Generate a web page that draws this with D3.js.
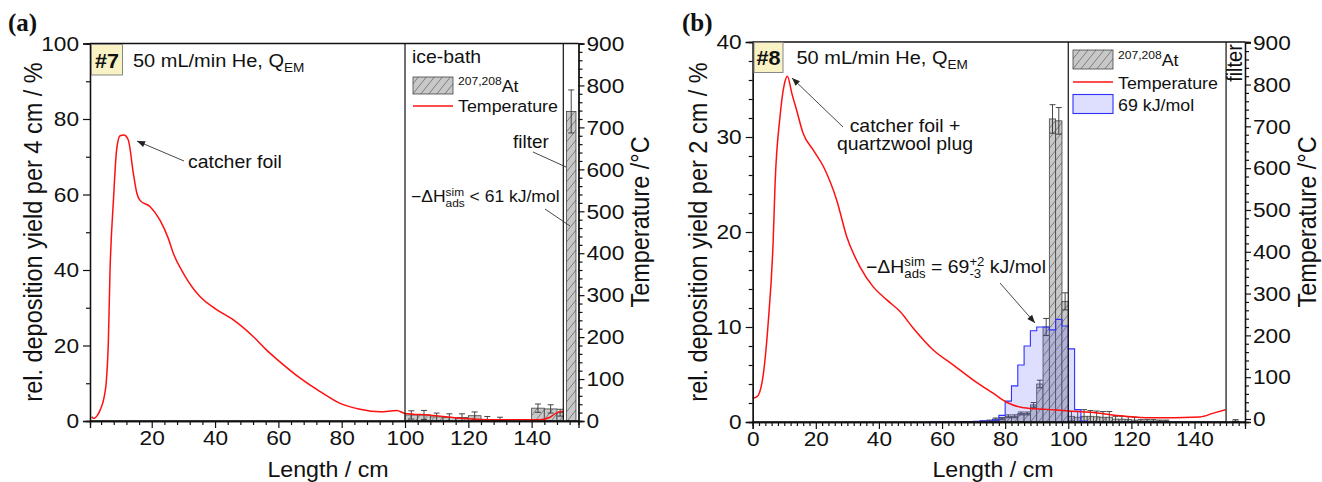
<!DOCTYPE html>
<html>
<head>
<meta charset="utf-8">
<script src="https://cdn.jsdelivr.net/npm/d3@7"></script>
<style>
body { margin: 0; background: #fff; }
text { font-family: "Liberation Sans", Arial, sans-serif; fill: #111; white-space: pre; }
</style>
</head>
<body>
<svg id="mainSvg" width="1322" height="482"></svg>
<script>
// ---- panel (a) #7 : 4 cm bins in the ice-bath, filter separately
var edgesA  = [100, 104, 108, 112, 116, 120, 124, 128, 132, 136, 140, 144, 148, 150];
var yieldA  = [1.6, 1.6, 1.1, 0.9, 0.9, 1.4, 0.3, 0.2, 0, 0, 3.4, 3.2, 2.2];
var errA    = [1.1, 1.2, 1.0, 1.0, 1.0, 1.0, 0.9, 0.8, 0, 0, 1.1, 1.1, 0.9];
var filterEdgesA = [151, 154];
var filterYieldA = [82];
var filterErrA   = [5.7];
var tempAcm = [1.0, 1.7, 2.6, 3.7, 5.0, 5.6, 6.0, 6.3, 6.8, 7.9, 8.9, 10.0, 11.2, 12.6, 14.2, 15.3, 16.3, 19.5, 22.6, 25.2, 26.8, 30, 35.3, 40, 45.8, 52.1, 56.3, 60.5, 66.9, 73.2, 79.5, 85.8, 92.1, 97.4, 100, 107.9, 118.5, 129, 142.7, 145.8, 148, 149.9];
var tempAdeg = [10, 6, 11, 26, 58, 90, 135, 189, 351, 526, 646, 680, 682, 670, 590, 543, 526, 511, 479, 436, 400, 352, 296, 268, 241, 201, 169, 141, 102, 70, 42, 28, 22, 25, 18, 14, 6, 3, 3, 9, 20, 23];

// ---- panel (b) #8 : 2 cm bins
var edgesB = [72, 74, 76, 78, 80, 82, 84, 86, 88, 90, 92, 94, 96, 98, 100, 102, 104, 106, 108, 110, 112, 114, 116, 118, 120, 122, 124, 126, 128, 130, 132];
var yieldB = [0.05, 0.1, 0.3, 0.35, 0.6, 0.6, 0.9, 0.9, 1.8, 4.0, 10.0, 31.9, 31.7, 12.7, 0.6, 0.5, 0.6, 0.6, 0.55, 0.5, 0.5, 0.3, 0.3, 0.25, 0.2, 0.1, 0.1, 0.1, 0.1, 0.1];
var errB   = [0.05, 0.1, 0.12, 0.12, 0.15, 0.15, 0.15, 0.15, 0.25, 0.4, 0.9, 1.5, 1.4, 0.9, 0.5, 0.6, 0.7, 0.6, 0.6, 0.6, 0.6, 0.3, 0.3, 0.3, 0.3, 0.15, 0.15, 0.15, 0.1, 0.1];
var filterEdgesB = [152, 154];
var filterYieldB = [0.1];
var filterErrB   = [0.15];
var simEdgesB = [56, 60, 66, 70, 72, 74, 76, 78, 80, 82, 84, 86, 88, 90, 92, 94, 96, 98, 100, 102, 104, 106, 150];
var simB      = [0, 0.02, 0.04, 0.08, 0.12, 0.1, 0.2, 0.7, 2.2, 3.8, 6.0, 8.0, 9.6, 10.0, 10.0, 9.7, 10.8, 10.1, 7.7, 1.3, 0.1, 0];
var tempBcm = [0, 1.0, 1.8, 3.4, 4.9, 6.5, 7.1, 8.65, 10.0, 11.0, 12.4, 13.9, 16.0, 19.2, 22.4, 26.6, 29.8, 34.0, 38.2, 42.5, 46.7, 50.9, 57.2, 63.6, 69.9, 76.3, 80.5, 85.8, 93.2, 100, 106.9, 117.5, 125.9, 141.8, 146, 149.8];
var tempBdeg = [50, 52, 57, 109, 229, 428, 564, 723, 800, 820, 779, 739, 683, 643, 604, 524, 436, 364, 316, 285, 257, 217, 165, 129, 93, 61, 40, 27, 23, 19, 16, 7, 3, 5, 14, 22];

var SX = 1.08;   // text in the reference looks a bit wide
var svg = d3.select("#mainSvg");
var defs = svg.append("defs");
var pat = defs.append("pattern").attr("id", "hatch").attr("patternUnits", "userSpaceOnUse").attr("width", 8).attr("height", 10);
pat.append("rect").attr("width", 8).attr("height", 10).attr("fill", "#c8c8c8");
pat.append("path").attr("d", "M0,10 L8,0 M-2,2.5 L2,-2.5 M6,12.5 L10,7.5").attr("stroke", "#5a5a5a").attr("stroke-width", 0.7);
defs.append("marker").attr("id", "arrow").attr("markerUnits", "userSpaceOnUse").attr("viewBox", "0 0 10 10")
	.attr("refX", 10).attr("refY", 5).attr("markerWidth", 10).attr("markerHeight", 8).attr("orient", "auto")
	.append("path").attr("d", "M0,1 L10,5 L0,9 Z").attr("fill", "#222");

// text with sub/superscript parts, drawn in a horizontally stretched group
function rich(g, x, y, parts, size, anchor, weight)
{
	var grp = g.append("g").attr("transform", "translate(" + x + "," + y + ") scale(" + SX + ",1)");
	var cx = 0;
	parts.forEach(function(p) {
		if(p.t !== undefined)
		{
			var t = grp.append("text").attr("x", cx).attr("y", 0).attr("font-size", size).text(p.t);
			if(weight) t.attr("font-weight", weight);
			cx += t.node().getComputedTextLength();
		}
		else
		{
			var w = 0;
			if(p.sup)
			{
				var s = grp.append("text").attr("x", cx).attr("y", -0.4 * size).attr("font-size", size * 0.68).text(p.sup);
				w = Math.max(w, s.node().getComputedTextLength());
			}
			if(p.sub)
			{
				var b = grp.append("text").attr("x", cx).attr("y", 0.3 * size).attr("font-size", size * 0.68).text(p.sub);
				w = Math.max(w, b.node().getComputedTextLength());
			}
			cx += w;
		}
	});
	if(anchor == "middle")
		grp.selectAll("text").attr("transform", "translate(" + (-cx / 2) + ",0)");
	return grp;
}
function vtitle(x, y, str, size)
{
	svg.append("g").attr("transform", "translate(" + x + "," + y + ") scale(" + SX + ",1) rotate(-90)")
		.append("text").attr("text-anchor", "middle").attr("font-size", size).text(str);
}
function stretchTicks(ax)
{
	ax.selectAll("text").attr("font-size", 21).style("font-family", "Liberation Sans, Arial, sans-serif").each(function() {
		var el = d3.select(this);
		var x0 = +el.attr("x") || 0;
		el.attr("transform", "translate(" + (x0 * (1 - SX)) + ",0) scale(" + SX + ",1)");
	});
	ax.selectAll("path.domain").attr("stroke", "#111").attr("stroke-width", 1.3);
	ax.selectAll("line").attr("stroke", "#111").attr("stroke-width", 1.2);
}
function range(a, b, s, skip)
{
	var r = [];
	for(var v = a; v <= b + 1e-9; v += s)
		if(!skip || Math.abs(v / skip - Math.round(v / skip)) > 1e-6)
			r.push(+v.toFixed(3));
	return r;
}
function axes(P)
{
	var x = P.x, y = P.y, t = P.t;
	var x0 = x.range()[0], x1 = x.range()[1], y0 = y.range()[0], y1 = y.range()[1];
	var gb = svg.append("g").attr("transform", "translate(0," + y0 + ")");
	gb.append("g").call(d3.axisBottom(x).tickValues(P.xMajor).tickSize(7).tickPadding(2).tickFormat(d3.format("d")));
	gb.append("g").call(d3.axisBottom(x).tickValues(P.xMinor).tickSize(4).tickFormat(""));
	var gl = svg.append("g").attr("transform", "translate(" + x0 + ",0)");
	gl.append("g").call(d3.axisLeft(y).tickValues(P.yMajor).tickSize(7).tickPadding(4).tickFormat(d3.format("d")));
	gl.append("g").call(d3.axisLeft(y).tickValues(P.yMinor).tickSize(4).tickFormat(""));
	var gr = svg.append("g").attr("transform", "translate(" + x1 + ",0)");
	gr.append("g").call(d3.axisRight(t).tickValues(range(0, 900, 100)).tickSize(6).tickPadding(2).tickFormat(d3.format("d")));
	gr.append("g").call(d3.axisRight(t).tickValues(range(20, 880, 20, 100)).tickSize(4).tickFormat(""));
	[gb, gl, gr].forEach(stretchTicks);
	svg.append("line").attr("x1", x0).attr("x2", x1).attr("y1", y1).attr("y2", y1).attr("stroke", "#111").attr("stroke-width", 1.3);
	svg.append("line").attr("x1", x0).attr("x2", x1).attr("y1", y0).attr("y2", y0).attr("stroke", "#111").attr("stroke-width", 1.3);
	[100, 150].forEach(function(v) {
		svg.append("line").attr("x1", x(v)).attr("x2", x(v)).attr("y1", y1).attr("y2", y0).attr("stroke", "#111").attr("stroke-width", 1.2);
	});
}
function bars(P, edges, vals, errs)
{
	var x = P.x, y = P.y;
	var d = vals.map(function(v, i) { return {a: edges[i], b: edges[i + 1], v: v, e: errs[i]}; });
	svg.append("g").selectAll("rect").data(d.filter(function(k) { return k.v > 0; })).enter().append("rect")
		.attr("x", function(k) { return x(k.a); }).attr("width", function(k) { return x(k.b) - x(k.a); })
		.attr("y", function(k) { return y(k.v); }).attr("height", function(k) { return y(0) - y(k.v); })
		.attr("fill", "url(#hatch)").attr("stroke", "#444").attr("stroke-width", 0.8);
	var ge = svg.append("g").attr("stroke", "#333").attr("stroke-width", 0.9);
	d.filter(function(k) { return k.e > 0; }).forEach(function(k) {
		var cx = x((k.a + k.b) / 2), hi = y(k.v + k.e), lo = y(Math.max(0, k.v - k.e));
		ge.append("line").attr("x1", cx).attr("x2", cx).attr("y1", hi).attr("y2", lo);
		ge.append("line").attr("x1", cx - 3).attr("x2", cx + 3).attr("y1", hi).attr("y2", hi);
		ge.append("line").attr("x1", cx - 3).attr("x2", cx + 3).attr("y1", lo).attr("y2", lo);
	});
}
function tempLine(P, cm, deg)
{
	var pts = cm.map(function(c, i) { return [c, deg[i]]; });
	svg.append("path").datum(pts).attr("fill", "none").attr("stroke", "#ff1010").attr("stroke-width", 1.5)
		.attr("d", d3.line().x(function(p) { return P.x(p[0]); }).y(function(p) { return P.t(p[1]); }).curve(d3.curveMonotoneX));
}
function arrow(x1, y1, x2, y2, head)
{
	var l = svg.append("line").attr("x1", x1).attr("y1", y1).attr("x2", x2).attr("y2", y2).attr("stroke", "#333").attr("stroke-width", 0.9);
	if(head)
		l.attr("marker-end", "url(#arrow)");
}

// ---------- panel (a)
var PA = {
	x: d3.scaleLinear().domain([0.5, 154.8]).range([90, 578.5]),
	y: d3.scaleLinear().domain([0, 100]).range([421, 43.5]),
	t: d3.scaleLinear().domain([0, 900]).range([421, 43.5]),
	xMajor: range(20, 140, 20), xMinor: range(4, 152, 4, 20),
	yMajor: range(0, 100, 20), yMinor: range(10, 90, 20)
};
bars(PA, edgesA, yieldA, errA);
bars(PA, filterEdgesA, filterYieldA, filterErrA);
tempLine(PA, tempAcm, tempAdeg);
axes(PA);

// ---------- panel (b)
var PB = {
	x: d3.scaleLinear().domain([0, 156]).range([752.7, 1245]),
	y: d3.scaleLinear().domain([0, 40]).range([422, 42]),
	t: d3.scaleLinear().domain([-7.2, 901.8]).range([422, 42]),
	xMajor: range(0, 140, 20), xMinor: range(2, 154, 2, 20),
	yMajor: range(0, 40, 10), yMinor: range(2, 38, 2, 10)
};
bars(PB, edgesB, yieldB, errB);
bars(PB, filterEdgesB, filterYieldB, filterErrB);
var simPts = simB.map(function(v, i) { return [simEdgesB[i], v]; });
simPts.push([simEdgesB[simEdgesB.length - 1], 0]);
svg.append("path").datum(simPts).attr("fill", "rgba(90,90,255,0.2)").attr("stroke", "none")
	.attr("d", d3.area().x(function(p) { return PB.x(p[0]); }).y0(PB.y(0)).y1(function(p) { return PB.y(p[1]); }).curve(d3.curveStepAfter));
svg.append("path").datum(simPts).attr("fill", "none").attr("stroke", "#3030ff").attr("stroke-width", 1.1)
	.attr("d", d3.line().x(function(p) { return PB.x(p[0]); }).y(function(p) { return PB.y(p[1]); }).curve(d3.curveStepAfter));
tempLine(PB, tempBcm, tempBdeg);
axes(PB);

// ---------- labels, legends, annotations
svg.append("text").attr("x", 8).attr("y", 31).style("font-family", "Liberation Serif, serif").attr("font-weight", "bold").attr("font-size", 25).text("(a)");
svg.append("text").attr("x", 682).attr("y", 31).style("font-family", "Liberation Serif, serif").attr("font-weight", "bold").attr("font-size", 25).text("(b)");

svg.append("rect").attr("x", 91.5).attr("y", 44.5).attr("width", 31).attr("height", 30.5).attr("fill", "#f8f2c4").attr("stroke", "#888");
rich(svg, 107, 68, [{t: "#7"}], 20, "middle", "bold");
rich(svg, 133, 66.5, [{t: "50 mL/min He, Q"}, {sub: "EM"}], 18.5);
svg.append("rect").attr("x", 754).attr("y", 42.5).attr("width", 29).attr("height", 30).attr("fill", "#f8f2c4").attr("stroke", "#888");
rich(svg, 768.5, 65, [{t: "#8"}], 20, "middle", "bold");
rich(svg, 796.5, 63.5, [{t: "50 mL/min He, Q"}, {sub: "EM"}], 18.5);

// legend (a)
rich(svg, 412, 63, [{t: "ice-bath"}], 18);
svg.append("rect").attr("x", 413).attr("y", 77).attr("width", 40).attr("height", 17).attr("fill", "url(#hatch)").attr("stroke", "#444").attr("stroke-width", 0.8);
rich(svg, 458, 92, [{sup: "207,208"}, {t: "At"}], 16.5);
svg.append("line").attr("x1", 413).attr("x2", 453).attr("y1", 106).attr("y2", 106).attr("stroke", "#ff1010").attr("stroke-width", 1.5);
rich(svg, 458, 112, [{t: "Temperature"}], 16.5);
// legend (b)
svg.append("rect").attr("x", 1073).attr("y", 50).attr("width", 40).attr("height", 19).attr("fill", "url(#hatch)").attr("stroke", "#444").attr("stroke-width", 0.8);
rich(svg, 1118, 66, [{sup: "207,208"}, {t: "At"}], 16.5);
svg.append("line").attr("x1", 1073).attr("x2", 1113).attr("y1", 82).attr("y2", 82).attr("stroke", "#ff1010").attr("stroke-width", 1.5);
rich(svg, 1118, 88.5, [{t: "Temperature"}], 16.5);
svg.append("rect").attr("x", 1073).attr("y", 94.5).attr("width", 40).attr("height", 19).attr("fill", "rgba(90,90,255,0.2)").attr("stroke", "#3030ff").attr("stroke-width", 1.1);
rich(svg, 1118, 110.5, [{t: "69 kJ/mol"}], 16.5);
svg.append("g").attr("transform", "translate(1242,63) scale(" + SX + ",1) rotate(-90)")
	.append("text").attr("text-anchor", "middle").attr("font-size", 20).text("filter");

// annotations (a)
rich(svg, 188, 168, [{t: "catcher foil"}], 18);
arrow(184, 161, 137, 141, true);
rich(svg, 513, 148, [{t: "filter"}], 17.5);
arrow(533, 152, 566, 167, false);
rich(svg, 411, 202, [{t: "\u2212\u0394H"}, {sup: "sim", sub: "ads"}, {t: " < 61 kJ/mol"}], 16.2);
arrow(545, 209, 570, 226, false);
// annotations (b)
rich(svg, 905, 131.5, [{t: "catcher foil +"}], 18, "middle");
rich(svg, 905, 150, [{t: "quartzwool plug"}], 18, "middle");
arrow(843, 127, 792, 78, true);
rich(svg, 866, 273, [{t: "\u2212\u0394H"}, {sup: "sim", sub: "ads"}, {t: " = 69"}, {sup: "+2", sub: "-3"}, {t: " kJ/mol"}], 18);
arrow(1000, 283, 1035, 323, true);

// axis titles
vtitle(42, 232, "rel. deposition yield per 4 cm / %", 23.5);
vtitle(649, 222, "Temperature /\u00b0C", 23.5);
vtitle(707, 232, "rel. deposition yield per 2 cm / %", 23.5);
vtitle(1316, 222, "Temperature /\u00b0C", 23.5);
rich(svg, 328, 477, [{t: "Length / cm"}], 21.5, "middle");
rich(svg, 993, 477, [{t: "Length / cm"}], 21.5, "middle");
</script>
</body>
</html>
